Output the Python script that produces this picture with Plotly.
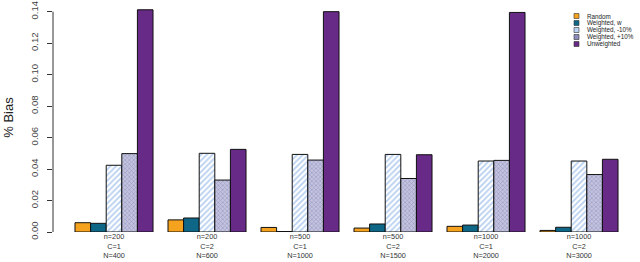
import plotly.graph_objects as go

groups = ["n=200<br>C=1<br>N=400", "n=200<br>C=2<br>N=600", "n=500<br>C=1<br>N=1000",
          "n=500<br>C=2<br>N=1500", "n=1000<br>C=1<br>N=2000", "n=1000<br>C=2<br>N=3000"]
random_ = [0.0059, 0.0077, 0.0029, 0.0025, 0.0036, 0.0010]
weighted_w = [0.0055, 0.0089, 0.0003, 0.0051, 0.0044, 0.0030]
weighted_m10 = [0.0424, 0.0500, 0.0493, 0.0493, 0.0451, 0.0451]
weighted_p10 = [0.0498, 0.0330, 0.0457, 0.0340, 0.0455, 0.0365]
unweighted = [0.1412, 0.0525, 0.1400, 0.0491, 0.1395, 0.0462]
yticks = [0.00, 0.02, 0.04, 0.06, 0.08, 0.10, 0.12, 0.14]
series_names = ["Random", "Weighted, w", "Weighted, -10%", "Weighted, +10%", "Unweighted"]
legend_colors = ["#F5A21E", "#0E6787", "#B9D2F2", "#8C8CBC", "#672A86"]

FONT = "Liberation Sans, Arial, sans-serif"
line = dict(color="#111111", width=1)

W, H = 640, 262
ML, MR, MT, MB = 53, 5, 3, 30
PW, PH = W - ML - MR, H - MT - MB

def px_x(px):
    return (px - ML) / PW

def px_y(py):
    return (H - MB - py) / PH

fig = go.Figure()
fig.add_bar(x=groups, y=random_, name=series_names[0],
            marker=dict(color="#F5A21E", line=line))
fig.add_bar(x=groups, y=weighted_w, name=series_names[1],
            marker=dict(color="#0E6787", line=line))
fig.add_bar(x=groups, y=weighted_m10, name=series_names[2],
            marker=dict(color="white", line=line,
                        pattern=dict(shape="/", fgcolor="#6F9FE0", bgcolor="white",
                                     size=4, solidity=0.45)))
fig.add_bar(x=groups, y=weighted_p10, name=series_names[3],
            marker=dict(color="#A9A9CF", line=line,
                        pattern=dict(shape="x", fgcolor="#7474A8", bgcolor="#C4C4E0",
                                     size=3, solidity=0.4)))
fig.add_bar(x=groups, y=unweighted, name=series_names[4],
            marker=dict(color="#672A86", line=line))

# y axis line spanning only the tick range, like R
fig.add_shape(type="line", xref="paper", yref="y", x0=0, x1=0,
              y0=yticks[0], y1=yticks[-1], line=dict(color="#333333", width=1))

# compact R-style legend
for i, (nm, col) in enumerate(zip(series_names, legend_colors)):
    cy = 16 + 7 * i
    fig.add_shape(type="rect", xref="paper", yref="paper",
                  x0=px_x(574), x1=px_x(579), y0=px_y(cy + 2.5), y1=px_y(cy - 2.5),
                  fillcolor=col, line=dict(color="#333333", width=0.6))
    fig.add_annotation(xref="paper", yref="paper", x=px_x(585), y=px_y(cy),
                       xanchor="left", yanchor="middle", text=nm, showarrow=False,
                       font=dict(size=6.3, family=FONT, color="#222222"))

fig.update_layout(
    width=W, height=H,
    margin=dict(l=ML, r=MR, t=MT, b=MB),
    paper_bgcolor="white", plot_bgcolor="white",
    barmode="group", bargap=0.161, bargroupgap=0,
    font=dict(family=FONT, color="#222222"),
    showlegend=False,
    xaxis=dict(range=[-0.656, 5.602], showline=False, showgrid=False, zeroline=False,
               automargin=False,
               ticks="", tickfont=dict(size=7.3, color="#333333"), tickangle=0,
               ticklabelstandoff=-1),
    yaxis=dict(range=[0, 0.1455], showline=False, showgrid=False, zeroline=False,
               automargin=False,
               tickvals=yticks, ticktext=[f"{v:.2f}" for v in yticks],
               ticks="outside", ticklen=5, tickcolor="#333333",
               tickfont=dict(size=9.5, color="#444444"), tickangle=-90,
               ticklabelstandoff=5,
               title=dict(text="% Bias", font=dict(size=13, color="#222222"), standoff=12)),
)

fig.write_html("out.html", config={"displayModeBar": False},
               post_script="document.body.style.margin='0';document.body.style.overflow='hidden';")
